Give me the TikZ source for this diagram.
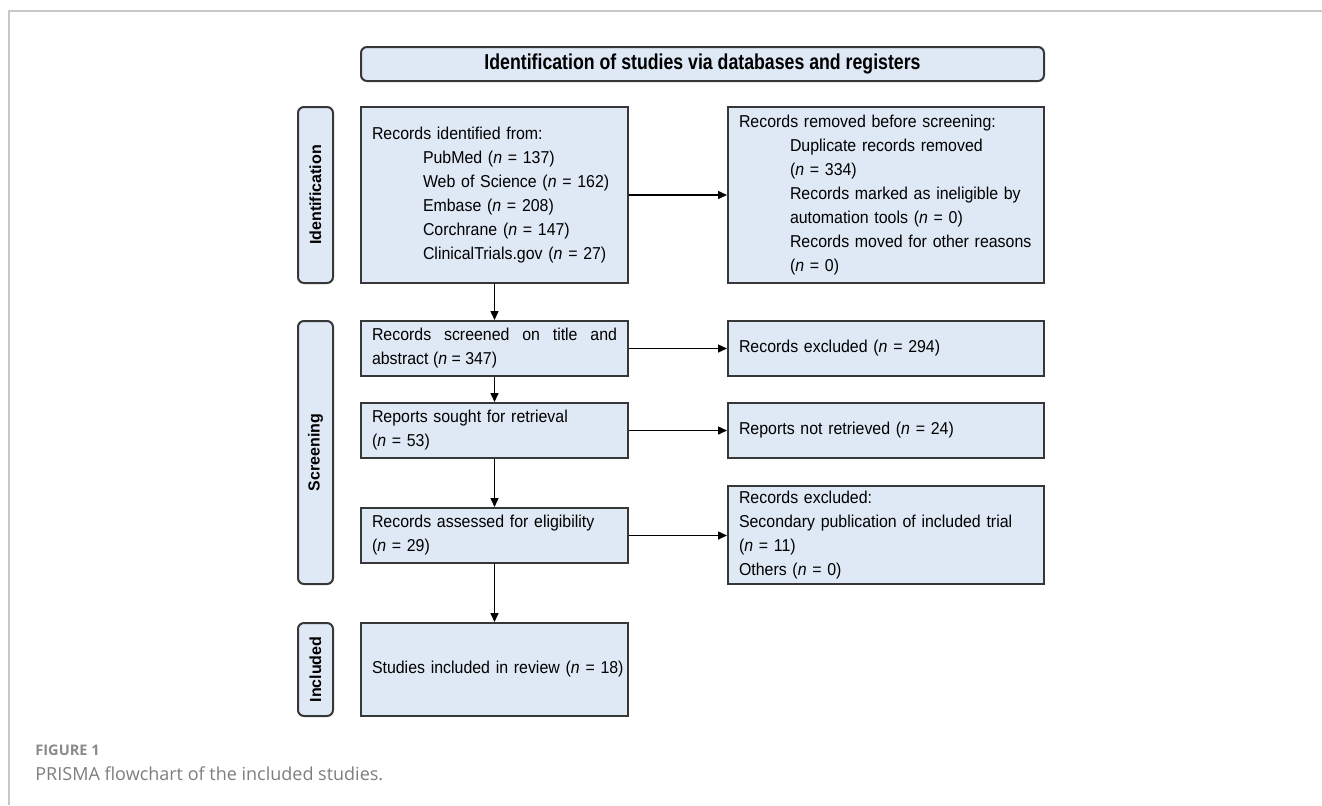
\documentclass[tikz,border=0pt]{standalone}
\usepackage{fontspec}
\setmainfont{Liberation Sans}[FakeStretch=0.925]
\newfontfamily\stagefont{Liberation Sans}
\newfontfamily\headfont{Liberation Sans Bold}[FakeStretch=0.82]
\newfontfamily\capfont{Open Sans}
\usetikzlibrary{arrows.meta}
\newcommand{\nohyph}{\hyphenpenalty=10000\relax}
\tikzset{
  flow/.style={
    line width=1pt,
    line join=miter
  },
  flow-box/.style={
    flow,
    draw=boxline,
    fill=boxfill,
    align=left,
    inner xsep=5.5pt,
    inner ysep=0pt,
    font=\fontsize{8.6}{12}\selectfont\nohyph
  },
  left-box/.style={flow-box, text width=122.5pt},
  right-box/.style={flow-box, text width=147pt},
  stage-box/.style={
    flow,
    draw=boxline,
    fill=boxfill,
    rounded corners=3pt,
    rotate=90,
    minimum height=17.5pt,
    inner sep=0pt,
    font=\fontsize{8}{9.6}\selectfont\stagefont\bfseries
  },
  head-box/.style={
    flow,
    draw=boxline,
    fill=boxfill,
    rounded corners=3pt,
    minimum width=341.5pt,
    minimum height=17pt,
    inner sep=0pt,
    font=\fontsize{10.8}{12}\selectfont\headfont
  },
  flow-arrow/.style={line width=0.75pt, -{Triangle[length=4.5pt,width=4pt]}}
}
\definecolor{boxfill}{RGB}{222,233,245}
\definecolor{boxline}{RGB}{55,55,55}
\definecolor{framegray}{RGB}{200,200,200}
\definecolor{capgray}{RGB}{125,125,125}
\newcommand{\nn}{\textit{n}}
\newcommand{\tabin}{\hspace*{25.5pt}}
\newcommand{\pageframe}{
  \useasboundingbox (0,0) rectangle (1322,805);
  \draw[framegray, line width=0.75pt] (9,805) -- (9,11) -- (1322,11);
}

\begin{document}
\begin{tikzpicture}[x=0.5pt, y=-0.5pt]
  \pageframe

  \node[head-box] (head) at (702.5,64) {Identification of studies via databases and registers};

  % stage labels
  \node[stage-box, minimum width=88pt] (lab-id) at (315.5,195) {Identification};
  \node[stage-box, minimum width=131.5pt] (lab-scr) at (315.5,452.5) {Screening};
  \node[stage-box, minimum width=46.5pt] (lab-inc) at (315.5,669.5) {Included};

  % main column
  \node[left-box, minimum height=88pt] (ident) at (494.5,195) {Records identified from:\\
    \tabin PubMed (\nn{} = 137)\\
    \tabin Web of Science (\nn{} = 162)\\
    \tabin Embase (\nn{} = 208)\\
    \tabin Corchrane (\nn{} = 147)\\
    \tabin ClinicalTrials.gov (\nn{} = 27)};
  \node[left-box, align=justify, minimum height=27.5pt] (screened) at (494.5,348.5)
    {Records screened on title and abstract (\nn{} = 347)};
  \node[left-box, minimum height=27.5pt] (sought) at (494.5,430.5) {Reports sought for retrieval\\(\nn{} = 53)};
  \node[left-box, minimum height=27.5pt] (assessed) at (494.5,535.5) {Records assessed for eligibility\\(\nn{} = 29)};
  \node[left-box, minimum height=46.5pt] (included) at (494.5,669.5) {\mbox{Studies included in review (\nn{} = 18)}};

  % side column
  \node[right-box, minimum height=88pt] (removed) at (886,195) {Records removed before screening:\\
    \tabin Duplicate records removed\\
    \tabin (\nn{} = 334)\\
    \tabin Records marked as ineligible by\\
    \tabin automation tools (\nn{} = 0)\\
    \tabin \mbox{Records moved for other reasons}\\
    \tabin (\nn{} = 0)};
  \node[right-box, minimum height=27.5pt] (excluded) at (886,348.5) {Records excluded (\nn{} = 294)};
  \node[right-box, minimum height=27.5pt] (notretr) at (886,430.5) {Reports not retrieved (\nn{} = 24)};
  \node[right-box, minimum height=49pt] (excl-full) at (886,535) {Records excluded:\\
    Secondary publication of included trial\\
    (\nn{} = 11)\\
    Others (\nn{} = 0)};

  \draw[flow-arrow] (ident) -- (screened);
  \draw[flow-arrow] (screened) -- (sought);
  \draw[flow-arrow] (sought) -- (assessed);
  \draw[flow-arrow] (assessed) -- (included);

  \draw[flow-arrow] (ident.east) -- (ident.east -| removed.west);
  \draw[flow-arrow] (screened.east) -- (screened.east -| excluded.west);
  \draw[flow-arrow] (sought.east) -- (sought.east -| notretr.west);
  \draw[flow-arrow] (assessed.east) -- (assessed.east -| excl-full.west);

  % caption
  \node[anchor=base west, inner sep=0pt, text=capgray!90!white, font=\fontsize{7.3}{8}\selectfont\capfont\bfseries] (fig-num) at (35,755) {FIGURE 1};
  \node[anchor=base west, inner sep=0pt, text=capgray, font=\fontsize{9}{10}\selectfont\capfont] (fig-cap) at (35,780) {PRISMA flowchart of the included studies.};
\end{tikzpicture}
\end{document}
